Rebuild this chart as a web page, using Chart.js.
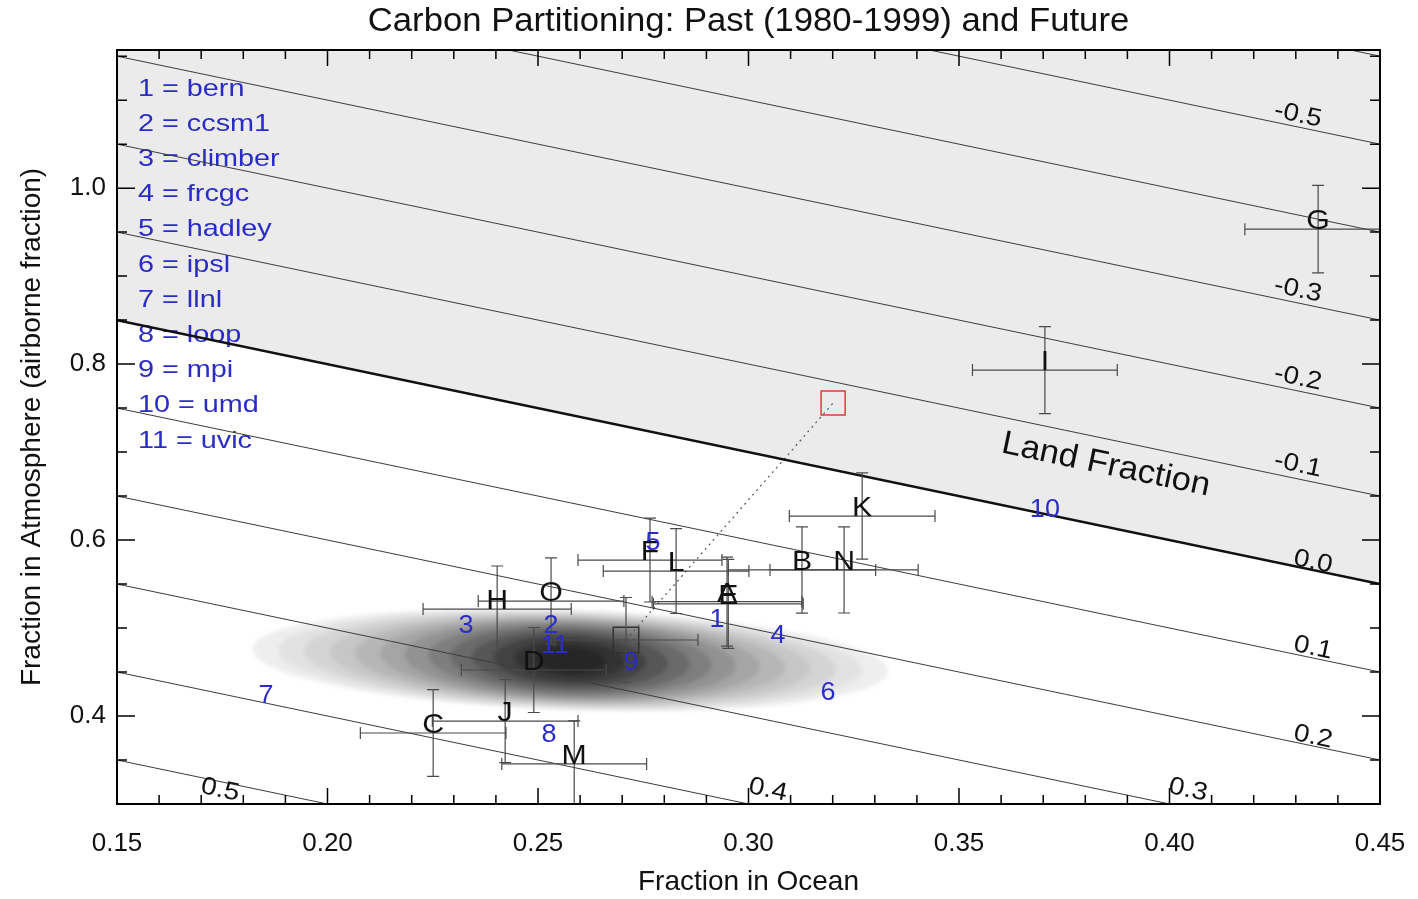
<!DOCTYPE html>
<html>
<head>
<meta charset="utf-8">
<title>Carbon Partitioning</title>
<script src="https://cdn.jsdelivr.net/npm/chart.js@4.4.1/dist/chart.umd.min.js"></script>
<style>
  html, body { margin: 0; padding: 0; background: #fff; }
  #wrap { width: 1418px; height: 899px; position: relative; }
</style>
</head>
<body>
<div id="wrap"><canvas id="carbonChart"></canvas></div>
<script>
const FONT = "'Liberation Sans', Arial, Helvetica, sans-serif";
const BLUE = "#2b2bc8";
const TITLE = "Carbon Partitioning: Past (1980-1999) and Future";

// Model runs A..O: fraction in ocean / atmosphere with error bars
const letterLabels = ["A", "B", "C", "D", "E", "F", "G", "H", "I", "J", "K", "L", "M", "N", "O"];
const letterOcean = [0.2949, 0.3127, 0.2251, 0.2490, 0.2952, 0.2766, 0.4353, 0.2403, 0.3704, 0.2422, 0.3270, 0.2828, 0.2586, 0.3227, 0.2531];
const letterAtmos = [0.5300, 0.5660, 0.3807, 0.4523, 0.5275, 0.5773, 0.9534, 0.5216, 0.7932, 0.3943, 0.6273, 0.5648, 0.3455, 0.5660, 0.5307];
const letterOceanErr = [0.0178, 0.0175, 0.0173, 0.0172, 0.0178, 0.0171, 0.0174, 0.0176, 0.0172, 0.0173, 0.0173, 0.0173, 0.0172, 0.0176, 0.0173];
const letterAtmosErr = [0.0506, 0.0490, 0.0494, 0.0483, 0.0506, 0.0477, 0.0498, 0.0489, 0.0494, 0.0472, 0.0490, 0.0483, 0.0490, 0.0489, 0.0490];

// Numbered models (blue)
const modelNames = ["bern", "ccsm1", "climber", "frcgc", "hadley", "ipsl", "llnl", "loop", "mpi", "umd", "uvic"];
const modelOcean = [0.2925, 0.2531, 0.2329, 0.3070, 0.2773, 0.3189, 0.1854, 0.2526, 0.2721, 0.3704, 0.2540];
const modelAtmos = [0.5011, 0.4943, 0.4943, 0.4830, 0.5886, 0.4182, 0.4148, 0.3705, 0.4523, 0.6261, 0.4716];

// Past (1980-1999) observation and future point
const pastPoint = [0.2709, 0.4864];
const pastErr = [0.0171, 0.0483];
const futurePoint = [0.3201, 0.7557];

// Land fraction iso-lines (land = 1 - ocean - atmosphere)
const landLevels = [-0.6, -0.5, -0.4, -0.3, -0.2, -0.1, 0.0, 0.1, 0.2, 0.3, 0.4, 0.5, 0.6];
const landLabelText = ["-0.5", "-0.3", "-0.2", "-0.1", "0.0", "0.1", "0.2", "0.5", "0.4", "0.3"];
const landLabelOcean = [0.4305, 0.4305, 0.4305, 0.4305, 0.4341, 0.4341, 0.4341, 0.1745, 0.3046, 0.4044];
const landLabelAtmos = [1.0830, 0.8841, 0.7841, 0.6852, 0.5750, 0.4773, 0.3761, 0.3159, 0.3159, 0.3159];

// Density of the past estimate (filled contours, outer -> inner)
const blobCenter = [0.2576, 0.4636];
const blobHalfOcean = [0.0755, 0.0694, 0.0632, 0.0570, 0.0511, 0.0451, 0.0394, 0.0337, 0.0285, 0.0233, 0.0181, 0.0131, 0.0083];
const blobHalfAtmos = [0.0568, 0.0545, 0.0523, 0.0500, 0.0477, 0.0455, 0.0432, 0.0398, 0.0364, 0.0318, 0.0273, 0.0216, 0.0148];
const blobShade = [238, 226, 212, 198, 182, 165, 146, 126, 106, 86, 66, 50, 38];

// Axis ticks
const xTickValues = [0.15, 0.20, 0.25, 0.30, 0.35, 0.40, 0.45];
const yTickValues = [0.4, 0.6, 0.8, 1.0];

const canvas = document.querySelector("#carbonChart");

const pts = (xs, ys) => xs.map((v, i) => ({ x: v, y: ys[i] }));

const landDatasets = landLevels.map((level) => ({
    label: `land ${level}`,
    showLine: true,
    data: [
        { x: 0.15, y: 1 - level - 0.15 },
        { x: 0.45, y: 1 - level - 0.45 }
    ],
    borderColor: level === 0 ? "#111" : "#3c3c3c",
    borderWidth: level === 0 ? 2.5 : 1,
    pointRadius: 0,
    fill: level === 0 ? "end" : false,
    backgroundColor: "#ebebeb"
}));

function lineAngle(x, y) {
    return Math.atan2(y.getPixelForValue(0.5) - y.getPixelForValue(0.6), x.getPixelForValue(0.25) - x.getPixelForValue(0.15));
}

function drawErrorBar(ctx, x, y, ox, oy, ex, ey) {
    const cap = 6;
    const px = x.getPixelForValue(ox);
    const py = y.getPixelForValue(oy);
    const left = x.getPixelForValue(ox - ex);
    const right = x.getPixelForValue(ox + ex);
    const top = y.getPixelForValue(oy + ey);
    const bottom = y.getPixelForValue(oy - ey);
    ctx.beginPath();
    ctx.moveTo(left, py); ctx.lineTo(right, py);
    ctx.moveTo(left, py - cap); ctx.lineTo(left, py + cap);
    ctx.moveTo(right, py - cap); ctx.lineTo(right, py + cap);
    ctx.moveTo(px, top); ctx.lineTo(px, bottom);
    ctx.moveTo(px - cap, top); ctx.lineTo(px + cap, top);
    ctx.moveTo(px - cap, bottom); ctx.lineTo(px + cap, bottom);
    ctx.stroke();
}

// Text slightly widened, as in the original figure
function wideText(ctx, text, px, py, stretch) {
    ctx.save();
    ctx.translate(px, py);
    ctx.scale(stretch, 1);
    ctx.fillText(text, 0, 0);
    ctx.restore();
}

const annotations = {
    id: "annotations",
    beforeDatasetsDraw(chart) {
        const { ctx, chartArea: area, scales: { x, y } } = chart;
        ctx.save();
        ctx.beginPath();
        ctx.rect(area.left, area.top, area.width, area.height);
        ctx.clip();

        // density blob
        const cx = x.getPixelForValue(blobCenter[0]);
        const cy = y.getPixelForValue(blobCenter[1]);
        ctx.filter = "blur(2px)";
        blobHalfOcean.forEach((half, i) => {
            const rx = x.getPixelForValue(blobCenter[0] + half) - cx;
            const ry = cy - y.getPixelForValue(blobCenter[1] + blobHalfAtmos[i]);
            const g = blobShade[i];
            ctx.fillStyle = `rgb(${g},${g},${g})`;
            ctx.beginPath();
            ctx.ellipse(cx, cy, rx, ry, 0.035, 0, Math.PI * 2);
            ctx.fill();
        });
        ctx.filter = "none";

        // model key
        ctx.fillStyle = BLUE;
        ctx.font = `24px ${FONT}`;
        ctx.textAlign = "left";
        ctx.textBaseline = "middle";
        modelNames.forEach((name, i) => {
            wideText(ctx, `${i + 1} = ${name}`, area.left + 21, area.top + 39 + i * 35.2, 1.2);
        });
        ctx.restore();
    },
    afterDatasetsDraw(chart) {
        const { ctx, chartArea: area, scales: { x, y } } = chart;
        ctx.save();
        ctx.beginPath();
        ctx.rect(area.left, area.top, area.width, area.height);
        ctx.clip();

        // error bars
        ctx.strokeStyle = "#4a4a4a";
        ctx.lineWidth = 1.2;
        letterLabels.forEach((_, i) => {
            drawErrorBar(ctx, x, y, letterOcean[i], letterAtmos[i], letterOceanErr[i], letterAtmosErr[i]);
        });
        drawErrorBar(ctx, x, y, pastPoint[0], pastPoint[1], pastErr[0], pastErr[1]);

        // letters
        const letterMeta = chart.getDatasetMeta(chart.data.datasets.findIndex((d) => d.label === "letters"));
        ctx.fillStyle = "#111";
        ctx.font = `28px ${FONT}`;
        ctx.textAlign = "center";
        ctx.textBaseline = "alphabetic";
        letterMeta.data.forEach((el, i) => wideText(ctx, letterLabels[i], el.x, el.y, 1.08));

        // numbered models
        const modelMeta = chart.getDatasetMeta(chart.data.datasets.findIndex((d) => d.label === "models"));
        ctx.fillStyle = BLUE;
        ctx.font = `25px ${FONT}`;
        modelMeta.data.forEach((el, i) => wideText(ctx, String(i + 1), el.x, el.y, 1.08));

        // land fraction labels
        const angle = lineAngle(x, y);
        ctx.fillStyle = "#111";
        ctx.textBaseline = "middle";
        landLabelText.forEach((text, i) => {
            ctx.save();
            ctx.translate(x.getPixelForValue(landLabelOcean[i]), y.getPixelForValue(landLabelAtmos[i]));
            ctx.rotate(angle);
            ctx.scale(1.12, 1);
            ctx.font = `25px ${FONT}`;
            ctx.fillText(text, 0, 0);
            ctx.restore();
        });
        ctx.save();
        ctx.translate(x.getPixelForValue(0.3849), y.getPixelForValue(0.6852));
        ctx.rotate(angle);
        ctx.scale(1.05, 1);
        ctx.font = `33px ${FONT}`;
        ctx.fillText("Land Fraction", 0, 0);
        ctx.restore();
        ctx.restore();

        // inward ticks on all sides + frame
        ctx.save();
        ctx.strokeStyle = "#000";
        ctx.lineWidth = 1.5;
        ctx.beginPath();
        for (let v = 15; v <= 45; v++) {
            const px = x.getPixelForValue(v / 100);
            const len = v % 5 === 0 ? 16 : 9;
            ctx.moveTo(px, area.bottom); ctx.lineTo(px, area.bottom - len);
            ctx.moveTo(px, area.top); ctx.lineTo(px, area.top + len);
        }
        for (let v = 30; v <= 115; v += 5) {
            const py = y.getPixelForValue(v / 100);
            const len = v % 20 === 0 ? 18 : 10;
            ctx.moveTo(area.left, py); ctx.lineTo(area.left + len, py);
            ctx.moveTo(area.right, py); ctx.lineTo(area.right - len, py);
        }
        ctx.stroke();
        ctx.lineWidth = 2;
        ctx.strokeRect(area.left, area.top, area.width, area.height);

        // title, centred over the plot area
        ctx.fillStyle = "#111";
        ctx.font = `34px ${FONT}`;
        ctx.textAlign = "center";
        ctx.textBaseline = "middle";
        wideText(ctx, TITLE, (area.left + area.right) / 2, 22, 1.02);
        ctx.restore();
    }
};

new Chart(canvas, {
    type: "scatter",
    data: {
        datasets: [
            ...landDatasets,
            {
                label: "path",
                showLine: true,
                data: pts([pastPoint[0], futurePoint[0]], [pastPoint[1], futurePoint[1]]),
                borderColor: "#555",
                borderWidth: 1.2,
                borderDash: [2, 4],
                pointRadius: 0
            },
            {
                label: "past",
                data: pts([pastPoint[0]], [pastPoint[1]]),
                pointStyle: "rect",
                pointRadius: 18,
                borderColor: "#333",
                borderWidth: 1.5,
                backgroundColor: "rgba(0,0,0,0)"
            },
            {
                label: "future",
                data: pts([futurePoint[0]], [futurePoint[1]]),
                pointStyle: "rect",
                pointRadius: 17,
                borderColor: "#e23a3a",
                borderWidth: 1.5,
                backgroundColor: "rgba(0,0,0,0)"
            },
            { label: "letters", data: pts(letterOcean, letterAtmos), pointRadius: 0 },
            { label: "models", data: pts(modelOcean, modelAtmos), pointRadius: 0 }
        ]
    },
    options: {
        responsive: true,
        maintainAspectRatio: false,
        animation: false,
        events: [],
        layout: { padding: { top: 50, right: 38, bottom: 0, left: 0 } },
        plugins: {
            legend: { display: false },
            tooltip: { enabled: false },
            title: { display: false },
            filler: { drawTime: "beforeDatasetsDraw" }
        },
        scales: {
            x: {
                type: "linear",
                min: 0.15,
                max: 0.45,
                afterBuildTicks: (scale) => { scale.ticks = xTickValues.map((v) => ({ value: v })); },
                afterFit: (scale) => {
                    scale.height = 95;
                    scale.paddingLeft = 0;
                    scale.paddingRight = 0;
                },
                grid: { display: false, drawTicks: false },
                border: { display: false },
                ticks: {
                    color: "#111",
                    font: { family: FONT, size: 26 },
                    padding: 24,
                    maxRotation: 0,
                    autoSkip: false,
                    callback: (v) => Number(v).toFixed(2)
                },
                title: {
                    display: true,
                    text: "Fraction in Ocean",
                    color: "#111",
                    font: { family: FONT, size: 28 },
                    padding: { top: 0, bottom: 0 }
                }
            },
            y: {
                type: "linear",
                min: 0.3,
                max: 1.157,
                afterBuildTicks: (scale) => { scale.ticks = yTickValues.map((v) => ({ value: v })); },
                afterFit: (scale) => {
                    scale.width = 117;
                    scale.paddingTop = 0;
                    scale.paddingBottom = 0;
                },
                grid: { display: false, drawTicks: false },
                border: { display: false },
                ticks: {
                    color: "#111",
                    font: { family: FONT, size: 26 },
                    padding: 11,
                    autoSkip: false,
                    callback: (v) => Number(v).toFixed(1)
                },
                title: {
                    display: true,
                    text: "Fraction in Atmosphere (airborne fraction)",
                    color: "#111",
                    font: { family: FONT, size: 28 },
                    padding: { top: 15, bottom: 0 }
                }
            }
        }
    },
    plugins: [annotations]
});
</script>
</body>
</html>
